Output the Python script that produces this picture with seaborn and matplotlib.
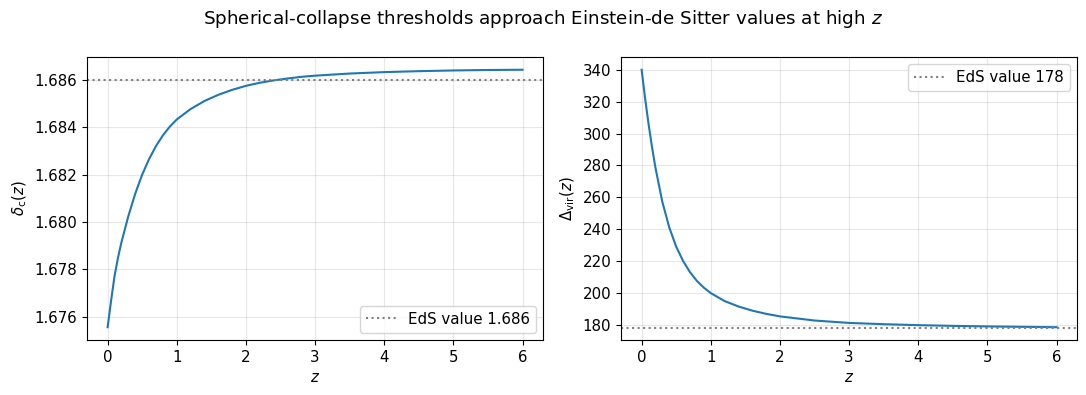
import matplotlib

matplotlib.use("Agg")
import matplotlib.pyplot as plt
import pandas as pd
import seaborn as sns

# values
z_delta = [0.0, 0.05, 0.1, 0.15, 0.2, 0.3, 0.4, 0.5, 0.6, 0.7, 0.8, 0.9, 1.0,
           1.2, 1.4, 1.6, 1.8, 2.0, 2.2, 2.4, 2.6, 2.8, 3.0, 3.5, 4.0, 4.5,
           5.0, 5.5, 6.0]
delta_c = [1.67556, 1.67668, 1.67772, 1.67850, 1.67915, 1.68026, 1.68121,
           1.68201, 1.68267, 1.68322, 1.68367, 1.68404, 1.68434, 1.68478,
           1.68512, 1.68538, 1.68559, 1.68576, 1.68589, 1.68599, 1.68607,
           1.68614, 1.68619, 1.68628, 1.68634, 1.68638, 1.68641, 1.68643,
           1.68644]

z_vir = [0.0, 0.05, 0.1, 0.15, 0.2, 0.3, 0.4, 0.5, 0.6, 0.7, 0.8, 0.9, 1.0,
         1.2, 1.4, 1.6, 1.8, 2.0, 2.5, 3.0, 3.5, 4.0, 4.5, 5.0, 5.5, 6.0]
delta_vir = [340.0, 322.0, 306.0, 291.5, 278.5, 257.0, 241.0, 229.0, 220.0,
             213.0, 207.5, 203.3, 199.9, 194.9, 191.5, 188.9, 186.9, 185.3,
             182.7, 181.2, 180.4, 179.8, 179.35, 179.0, 178.75, 178.5]

eds_delta_c = 1.686
eds_delta_vir = 178

df_c = pd.DataFrame({"z": z_delta, "val": delta_c})
df_v = pd.DataFrame({"z": z_vir, "val": delta_vir})

plt.rcParams["font.size"] = 10.8
fig, axes = plt.subplots(1, 2, figsize=(10.86, 3.95), dpi=100)
fig.subplots_adjust(left=0.080, right=0.992, bottom=0.139, top=0.856, wspace=0.17)

ax = axes[0]
sns.lineplot(data=df_c, x="z", y="val", ax=ax, color="C0", linewidth=1.5)
ax.axhline(eds_delta_c, color="gray", linestyle=":", linewidth=1.5,
           label=f"EdS value {eds_delta_c:.3f}")
ax.set_xlabel("$z$")
ax.set_ylabel(r"$\delta_{\rm c}(z)$")
ax.grid(alpha=0.3)
ax.legend(loc="lower right")

ax = axes[1]
sns.lineplot(data=df_v, x="z", y="val", ax=ax, color="C0", linewidth=1.5)
ax.axhline(eds_delta_vir, color="gray", linestyle=":", linewidth=1.5,
           label=f"EdS value {eds_delta_vir}")
ax.set_xlabel("$z$")
ax.set_ylabel(r"$\Delta_{\rm vir}(z)$")
ax.grid(alpha=0.3)
ax.legend(loc="upper right")

fig.suptitle("Spherical-collapse thresholds approach Einstein-de Sitter values at high $z$",
             fontsize=13.2)
fig.savefig("out.png", dpi=100)
